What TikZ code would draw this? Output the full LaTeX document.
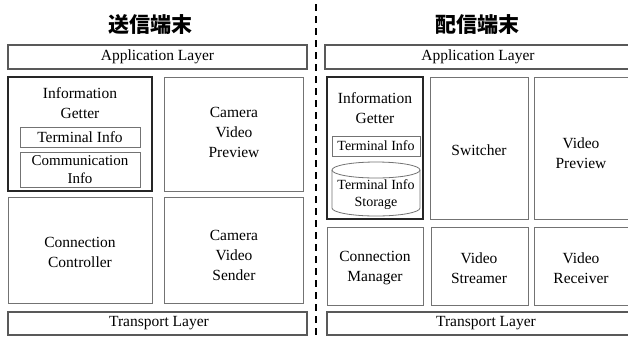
\documentclass[tikz,border=0pt]{standalone}
\usepackage{fontspec}
\setmainfont{Liberation Serif}
\newfontfamily\cjk{Noto Sans CJK JP}
\usetikzlibrary{fit}
\tikzset{
  box/.style={draw=black!55, line width=0.8pt, inner sep=0pt, align=center,
    font=\fontsize{15.5}{20}\selectfont},
  getter/.style={box, draw=black!85, line width=1.3pt},
  inner/.style={box, draw=black!55, line width=0.8pt},
  layer/.style={box, draw=black!65, line width=1.6pt},
  lbl/.style={inner sep=0pt, align=center, font=\fontsize{15.5}{20}\selectfont},
  small/.style={font=\fontsize{14}{17}\selectfont},
  title/.style={inner sep=0pt, font=\cjk\bfseries\fontsize{21}{24}\selectfont},
  sep/.style={draw=black, line width=2.2pt, dash pattern=on 7pt off 5pt}
}
\begin{document}
\begin{tikzpicture}[x=1pt,y=-1pt]
\useasboundingbox (0,0) rectangle (628,338);
\clip (0,0) rectangle (628,338);
\fill[white] (0,0) rectangle (628,338);
% titles
\node[title] (tL) at (150,25) {送信端末};
\node[title] (tR) at (477,25) {配信端末};
% separator
\coordinate (s1) at (316,4);
\coordinate (s2) at (316,340);
\draw[sep] (s1) -- (s2);
% left side
\node[layer, fit={(8,45) (307,69)}] (appL) {};
\node[lbl] at (appL.center) {Application Layer};
\node[getter, fit={(8,77) (152,191)}] (igL) {};
\node[lbl] (igLt) at (80,103) {Information\\Getter};
\node[inner, fit={(20,127) (140,147)}] (tiL) {};
\node[lbl] at (tiL.center) {Terminal Info};
\node[inner, fit={(20,152) (140,187)}] (ciL) {};
\node[lbl, font=\fontsize{15}{18}\selectfont] at (ciL.center) {Communication\\Info};
\node[box, fit={(164,77) (303,191)}] (cvp) {};
\node[lbl] at (234,132) {Camera\\Video\\Preview};
\node[box, fit={(8,197) (152,303)}] (cc) {};
\node[lbl] at (80,252) {Connection\\Controller};
\node[box, fit={(164,197) (303,303)}] (cvs) {};
\node[lbl] at (234,255) {Camera\\Video\\Sender};
\node[layer, fit={(8,312) (307,335)}] (trL) {};
\node[lbl] at (159,323.5) {Transport Layer};
% right side
\node[layer, fit={(325,45) (640,69)}] (appR) {};
\node[lbl] at (478,57) {Application Layer};
\node[getter, fit={(327,77) (423,219)}] (igR) {};
\node[lbl] (igRt) at (375,108) {Information\\Getter};
\node[inner, fit={(332,136) (420,156)}] (tiR) {};
\node[lbl, small] at (tiR.center) {Terminal Info};
% cylinder
\coordinate (cy) at (376,170);
\draw[black!55, line width=0.8pt, fill=white]
  (332,170) -- (332,208) arc[start angle=180, end angle=360, x radius=44, y radius=-8]
  -- (420,170);
\draw[black!55, line width=0.8pt] (cy) ellipse[x radius=44, y radius=8];
\node[lbl, small] (tis) at (376,195) {Terminal Info\\Storage};
\node[box, fit={(430,77) (528,219)}] (sw) {};
\node[lbl] at (479,150) {Switcher};
\node[box, fit={(534,77) (630,219)}] (vp) {};
\node[lbl] at (581,153) {Video\\Preview};
\node[box, fit={(327,227) (423,305)}] (cm) {};
\node[lbl] at (375,268) {Connection\\Manager};
\node[box, fit={(431,227) (528,305)}] (vs) {};
\node[lbl] at (479,268) {Video\\Streamer};
\node[box, fit={(534,227) (630,305)}] (vr) {};
\node[lbl] at (581,268) {Video\\Receiver};
\node[layer, fit={(327,312) (645,335)}] (trR) {};
\node[lbl] at (486,323.5) {Transport Layer};
\end{tikzpicture}
\end{document}
